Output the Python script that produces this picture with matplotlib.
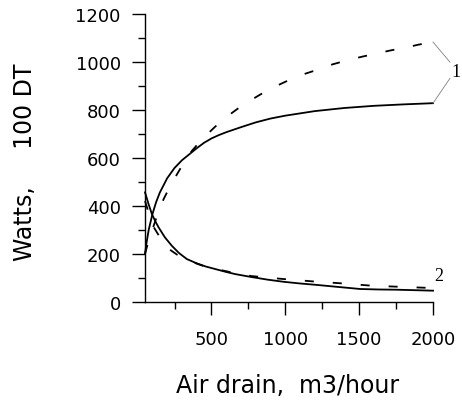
import matplotlib
matplotlib.use("Agg")
import matplotlib.pyplot as plt
from matplotlib.ticker import MultipleLocator

# curve 1 (rising), solid and dashed
x_solid1 = [50, 60, 75, 100, 125, 150, 200, 250, 300, 350, 400, 450, 500, 550, 600,
            700, 800, 900, 1000, 1200, 1400, 1600, 1800, 2000]
y_solid1 = [199, 245, 300, 365, 415, 455, 515, 558, 590, 615, 640, 663, 681, 695, 707,
            728, 748, 764, 776, 795, 808, 817, 823, 828]

x_dash1 = [50, 75, 101, 135, 176, 220, 265, 315, 367, 440, 525, 600, 682, 770,
           858, 940, 1034, 1130, 1230, 1320, 1419, 1520, 1622, 1720, 1824, 1900, 2000]
y_dash1 = [200, 255, 303, 365, 428, 482, 530, 582, 629, 680, 730, 770, 807, 842,
           874, 900, 927, 950, 970, 990, 1007, 1022, 1036, 1049, 1061, 1072, 1083]

# curve 2 (falling), solid and dashed
x_solid2 = [50, 75, 97, 120, 142, 185, 232, 280, 333, 400, 460, 527, 600, 662,
            770, 880, 989, 1100, 1214, 1350, 1507, 1630, 1755, 1880, 2000]
y_solid2 = [456, 405, 365, 335, 310, 268, 233, 203, 178, 160, 147, 136, 124, 115,
            103, 92, 83, 76, 70, 62, 53, 51, 50, 48, 46]

x_dash2 = [50, 100, 190, 270, 350, 450, 570, 670, 770, 870, 980, 1180, 1370, 1580,
           1780, 2000]
y_dash2 = [420, 320, 229, 195, 170, 148, 131, 118, 107, 101, 95, 85, 77, 67, 62, 57]

x_major = [500, 1000, 1500, 2000]
y_major = [0, 200, 400, 600, 800, 1000, 1200]

fig = plt.figure(figsize=(4.62, 4.02), dpi=100)
ax = fig.add_axes([0.3139, 0.247, 0.6234, 0.7157])

lw = 1.3
dash = (0, (5.0, 10.5))
ax.plot(x_solid1, y_solid1, color="black", lw=lw, clip_on=False)
ax.plot(x_dash1, y_dash1, color="black", lw=lw, linestyle=dash, clip_on=False)
ax.plot(x_solid2, y_solid2, color="black", lw=lw, clip_on=False)
ax.plot(x_dash2, y_dash2, color="black", lw=lw, linestyle=dash, clip_on=False)

# leader lines to the "1" label
ax.plot([x_dash1[-1], 2115], [y_dash1[-1], 999], color="gray", lw=0.6, clip_on=False)
ax.plot([x_solid1[-1], 2115], [y_solid1[-1], 932], color="gray", lw=0.6, clip_on=False)
ax.text(2158, 961, "1", family="Liberation Serif", fontsize=13,
        ha="center", va="center", clip_on=False)
ax.text(2037, 111, "2", family="Liberation Serif", fontsize=13,
        ha="center", va="center", clip_on=False)

ax.set_xlim(50, 2000)
ax.set_ylim(0, 1200)
ax.set_xticks(x_major)
ax.set_yticks(y_major)
ax.xaxis.set_minor_locator(MultipleLocator(250))
ax.yaxis.set_minor_locator(MultipleLocator(100))

for side in ("top", "right"):
    ax.spines[side].set_visible(False)
for side in ("left", "bottom"):
    ax.spines[side].set_linewidth(1.0)

ax.tick_params(which="major", length=9.5, width=1.0, labelsize=13)
ax.tick_params(axis="y", which="major", pad=8)
ax.tick_params(axis="x", which="major", pad=11)
ax.tick_params(which="minor", length=5, width=1.0)

fig.text(25 / 462, 0.596, "Watts,     100 DT", rotation=90,
         ha="center", va="center", fontsize=17)
fig.text(0.623, 0.04, "Air drain,  m3/hour", ha="center", va="center", fontsize=17)

fig.savefig("out.png", dpi=100)
